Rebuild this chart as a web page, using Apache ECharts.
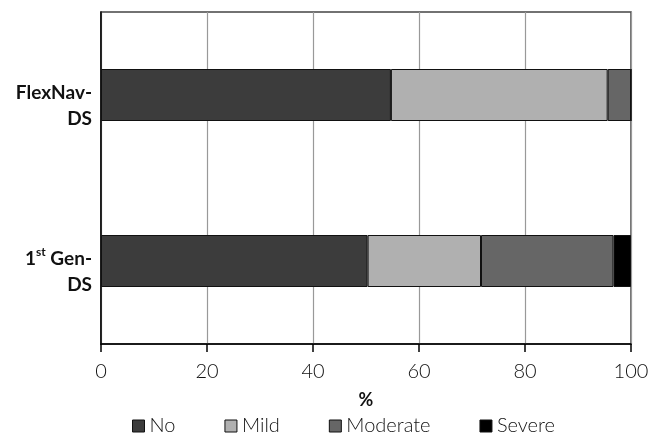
<!DOCTYPE html>
<html><head><meta charset="utf-8">
<script src="https://cdn.jsdelivr.net/npm/echarts@6/dist/echarts.min.js"></script>
<style>html,body{margin:0;padding:0;background:#fff}#c{width:659px;height:435px}</style>
</head><body><div id="c"></div>
<script>
const categories = ['1st Gen-DS', 'FlexNav-DS'];
const seriesNames = ['No', 'Mild', 'Moderate', 'Severe'];
const noVals = [50.3, 54.7];
const mildVals = [21.4, 40.9];
const moderateVals = [25.0, 4.4];
const severeVals = [3.3, 0];
const xTicks = [0, 20, 40, 60, 80, 100];
const colors = ['#3c3c3c', '#b0b0b0', '#666666', '#000000'];

const chart = echarts.init(document.getElementById('c'));
const font = 'Lato';
const dataSets = [noVals, mildVals, moderateVals, severeVals];
chart.setOption({
  animation: false,
  grid: { left: 101, right: 28, top: 12, bottom: 91, show: true, borderColor: '#444', borderWidth: 1.5 },
  legend: {
    top: 411, left: 127, itemWidth: 12, itemHeight: 12, itemGap: 49,
    textStyle: { fontFamily: font, fontSize: 20, fontWeight: 300, color: '#111' },
    data: seriesNames.map((n, i) => ({ name: n, icon: 'rect', itemStyle: { color: colors[i], borderColor: '#111', borderWidth: 1 } }))
  },
  xAxis: {
    type: 'value', min: 0, max: 100, interval: 20,
    name: '%', nameLocation: 'middle', nameGap: 47,
    nameTextStyle: { fontFamily: font, fontSize: 18, fontWeight: 'bold', color: '#111' },
    axisLine: { show: true, lineStyle: { color: '#000', width: 1.5 } },
    axisTick: { show: true, length: 8, lineStyle: { color: '#000', width: 1.5 } },
    axisLabel: { fontFamily: font, fontSize: 20, fontWeight: 300, color: '#111', margin: 18,
      formatter: v => xTicks.includes(v) ? String(v) : '' },
    splitLine: { show: true, lineStyle: { color: '#999', width: 1.2 } }
  },
  yAxis: {
    type: 'category', data: categories,
    axisLine: { show: true, lineStyle: { color: '#000', width: 1.5 } },
    axisTick: { show: false },
    axisLabel: {
      margin: 9, align: 'right', lineHeight: 26, padding: [22, 0, 0, 0],
      fontFamily: font, fontSize: 19, fontWeight: 'bold', color: '#111',
      formatter: v => v === '1st Gen-DS' ? '1{sup|st} Gen-\nDS' : 'FlexNav-\nDS',
      rich: {
        sup: { fontFamily: font, fontSize: 12, fontWeight: 'bold', color: '#111', lineHeight: 26, verticalAlign: 'top', padding: [0, 0, 10, 0] }
      }
    }
  },
  series: seriesNames.map((n, i) => ({
    name: n, type: 'bar', stack: 'total', barWidth: 52,
    itemStyle: { color: colors[i], borderColor: '#111', borderWidth: 1 },
    data: dataSets[i]
  }))
});
</script></body></html>
